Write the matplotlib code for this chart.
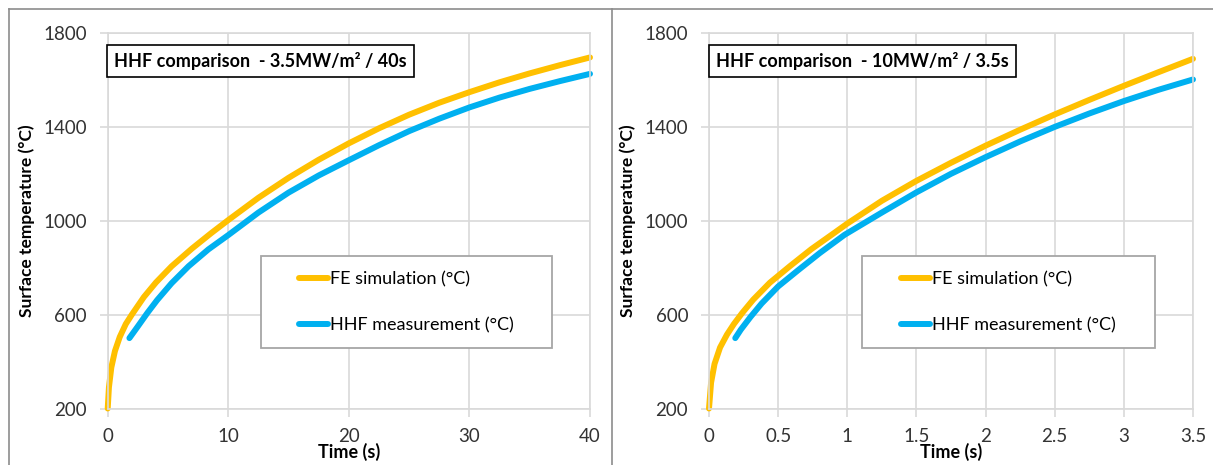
import matplotlib.pyplot as plt
from matplotlib.lines import Line2D
from matplotlib.patches import Rectangle

plt.rcParams['font.family'] = ['Lato', 'DejaVu Sans']

# left chart: 3.5 MW/m2 for 40 s
fe_time_a = [0, 0.1, 0.3, 0.6, 1.0, 1.5, 2.0, 3.0, 4.0, 5.3, 7.0, 8.6, 10, 12.5, 15,
             17.5, 20, 22.5, 25, 27.5, 30, 32.5, 35, 37.5, 40]
fe_temp_a = [200, 290, 375, 445, 505, 560, 600, 675, 737, 806, 882, 948, 1003, 1098, 1183,
             1260, 1330, 1394, 1452, 1503, 1548, 1590, 1628, 1663, 1696]
hhf_time_a = [1.8, 2.5, 3.3, 4.1, 5.3, 6.7, 8.35, 10, 12.5, 15, 17.5, 20, 22.5, 25, 27.5,
              30, 32.5, 35, 37.5, 40]
hhf_temp_a = [500, 550, 608, 662, 734, 806, 878, 939, 1035, 1120, 1193, 1258, 1322, 1382, 1435,
              1483, 1525, 1562, 1595, 1626]

# right chart: 10 MW/m2 for 3.5 s
fe_time_b = [0, 0.015, 0.04, 0.08, 0.13, 0.18, 0.24, 0.32, 0.44, 0.586, 0.74, 0.91, 1.0,
             1.25, 1.5, 1.75, 2.0, 2.25, 2.5, 2.75, 3.0, 3.25, 3.5]
fe_temp_b = [200, 310, 390, 460, 515, 560, 607, 664, 736, 807, 879, 950, 988,
             1085, 1170, 1247, 1320, 1388, 1453, 1515, 1575, 1633, 1690]
hhf_time_b = [0.19, 0.23, 0.30, 0.38, 0.50, 0.646, 0.80, 0.98, 1.25, 1.5, 1.75, 2.0, 2.25,
              2.5, 2.75, 3.0, 3.25, 3.5]
hhf_temp_b = [500, 536, 590, 647, 720, 790, 862, 940, 1035, 1121, 1200, 1271, 1338,
              1400, 1457, 1510, 1558, 1602]

temp_ticks = [200, 600, 1000, 1400, 1800]
time_ticks_a = [0, 10, 20, 30, 40]
time_ticks_b = [0, 0.5, 1, 1.5, 2, 2.5, 3, 3.5]
titles = ['HHF comparison  - 3.5MW/m² / 40s', 'HHF comparison  - 10MW/m² / 3.5s']

orange = '#FFC000'
blue = '#00B0F0'
grid_col = '#D9D9D9'

fig = plt.figure(figsize=(12.13, 4.65), dpi=100)
ax1 = fig.add_axes([0.0888, 0.1215, 0.3976, 0.8075])
ax2 = fig.add_axes([0.5845, 0.1215, 0.3990, 0.8075])

panels = [
    (ax1, fe_time_a, fe_temp_a, hhf_time_a, hhf_temp_a, time_ticks_a, titles[0]),
    (ax2, fe_time_b, fe_temp_b, hhf_time_b, hhf_temp_b, time_ticks_b, titles[1]),
]

for ax, ft, fT, ht, hT, xt, title in panels:
    ax.plot(ft, fT, color=orange, lw=4.3, solid_capstyle='round', solid_joinstyle='round',
            clip_on=False, label='FE simulation (°C)')
    ax.plot(ht, hT, color=blue, lw=4.3, solid_capstyle='round', solid_joinstyle='round',
            clip_on=False, label='HHF measurement (°C)')

    ax.set_xlim(xt[0], xt[-1])
    ax.set_ylim(temp_ticks[0], temp_ticks[-1])
    ax.set_xticks(xt)
    ax.set_xticklabels(['{:g}'.format(v) for v in xt])
    ax.set_yticks(temp_ticks)
    ax.grid(color=grid_col, lw=1.2)
    ax.set_axisbelow(True)
    for s in ax.spines.values():
        s.set_color(grid_col)
        s.set_linewidth(1.2)
    ax.tick_params(length=6, width=1.2, color=grid_col, labelsize=13.5,
                   labelcolor='#333333')
    ax.tick_params(axis='x', pad=8)
    ax.tick_params(axis='y', pad=9)

    ax.text(0.5, -0.115, 'Time (s)', transform=ax.transAxes, ha='center', va='center',
            fontsize=13, fontweight='bold')
    ax.text(-0.168, 0.5, 'Surface temperature (°C)', transform=ax.transAxes,
            ha='center', va='center', rotation=90, fontsize=12.5, fontweight='bold')

    ax.text(0.014, 0.925, title, transform=ax.transAxes, ha='left', va='center',
            fontsize=13, fontweight='bold',
            bbox=dict(boxstyle='square,pad=0.4', fc='white', ec='black', lw=1.2))

    # legend frame drawn separately so the entries sit centred in a wide box
    ax.add_patch(Rectangle((0.317, 0.161), 0.604, 0.245, transform=ax.transAxes,
                           fc='white', ec='#A6A6A6', lw=1.3, zorder=4))
    leg = ax.legend(loc='center', bbox_to_anchor=(0.619, 0.2835), fontsize=13,
                    frameon=False, handlelength=1.6, handletextpad=0.1,
                    labelspacing=1.65, borderpad=0, borderaxespad=0)
    leg.set_zorder(5)

# outer frame lines of the original picture
frame = dict(color='#8C8C8C', lw=1.2, transform=fig.transFigure)
fig.add_artist(Line2D([8.5 / 1213, 1], [1 - 9.5 / 465, 1 - 9.5 / 465], **frame))
fig.add_artist(Line2D([8.5 / 1213, 8.5 / 1213], [0, 1 - 9.5 / 465], **frame))
fig.add_artist(Line2D([611.5 / 1213, 611.5 / 1213], [0, 1 - 9.5 / 465], **frame))

fig.savefig('out.png', dpi=100)
